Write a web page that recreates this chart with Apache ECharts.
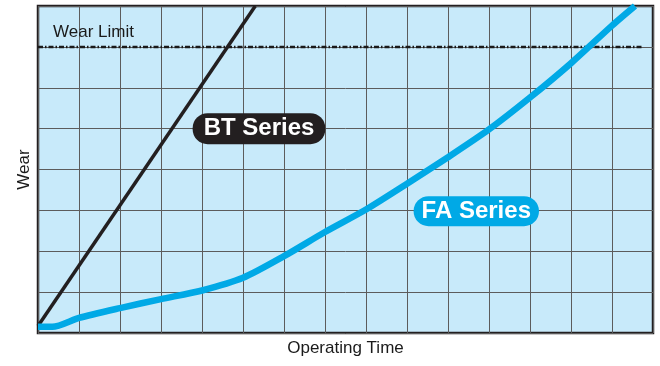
<!DOCTYPE html>
<html>
<head>
<meta charset="utf-8">
<script src="https://cdn.jsdelivr.net/npm/echarts@6/dist/echarts.min.js"></script>
<style>
html,body{margin:0;padding:0;background:#fff;}
#chart{width:660px;height:366px;}
</style>
</head>
<body>
<div id="chart"></div>
<script>
// ---- data ----
var xTicks = [0, 15, 1];           // operating time axis: min, max, interval (no labels)
var yTicks = [0, 8, 1];            // wear axis: min, max, interval (no labels)
var btSeries = [[0, 0.17], [5.3, 8.0]];
var faSeries = [
  [0, 0.15], [0.35, 0.15], [1, 0.37], [2, 0.61], [3, 0.83], [4, 1.04],
  [5, 1.35], [6, 1.88], [7, 2.47], [8, 3.02], [9, 3.65], [10, 4.3],
  [11, 4.98], [12, 5.76], [13, 6.6], [14, 7.52], [14.56, 8.0]
];
var wearLimit = [[0, 7], [14.73, 7]];
var btLabelAt = [5.39, 5.0];
var faLabelAt = [10.69, 2.98];
var labels = { x: 'Operating Time', y: 'Wear', limit: 'Wear Limit', bt: 'BT Series', fa: 'FA Series' };

var FONT = '"Liberation Sans", Arial, Helvetica, sans-serif';
var chart = echarts.init(document.getElementById('chart'), null, { renderer: 'canvas' });
chart.setOption({
  animation: false,
  backgroundColor: '#ffffff',
  grid: {
    left: 38, top: 6, width: 615, height: 327,
    show: true, backgroundColor: '#c8eafa', borderColor: '#231f20', borderWidth: 2.5,
    containLabel: false
  },
  xAxis: {
    type: 'value', min: xTicks[0], max: xTicks[1], interval: xTicks[2],
    name: labels.x, nameLocation: 'middle', nameGap: 7,
    nameTextStyle: { fontFamily: FONT, fontSize: 17, color: '#1a1a1a', verticalAlign: 'top' },
    axisLine: { show: false }, axisTick: { show: false }, axisLabel: { show: false },
    splitLine: { show: true, lineStyle: { color: '#5c5c5c', width: 1 } }
  },
  yAxis: {
    type: 'value', min: yTicks[0], max: yTicks[1], interval: yTicks[2],
    name: labels.y, nameLocation: 'middle', nameGap: 5, nameRotate: 90,
    nameTextStyle: { fontFamily: FONT, fontSize: 17, color: '#1a1a1a', verticalAlign: 'bottom' },
    axisLine: { show: false }, axisTick: { show: false }, axisLabel: { show: false },
    splitLine: { show: true, lineStyle: { color: '#5c5c5c', width: 1 } }
  },
  graphic: [{
    type: 'text', left: 53, top: 24, z: 100,
    style: { text: labels.limit, font: '17px ' + FONT, fill: '#1a1a1a' }
  }],
  series: [
    {
      type: 'line', data: wearLimit, symbol: 'none', silent: true, z: 3,
      lineStyle: { color: '#1a1a1a', width: 2.5, type: [5, 2, 1.5, 2] }
    },
    {
      type: 'line', data: btSeries, symbol: 'none', z: 4, clip: true,
      lineStyle: { color: '#231f20', width: 3.5 },
      markPoint: {
        symbol: 'circle', symbolSize: 0, silent: true,
        data: [{ coord: btLabelAt }],
        label: {
          show: true, position: 'inside', formatter: labels.bt,
          color: '#ffffff', fontFamily: FONT, fontWeight: 'bold', fontSize: 24,
          backgroundColor: '#231f20', borderRadius: 15, padding: [3, 11, 3, 11], lineHeight: 25
        }
      }
    },
    {
      type: 'line', data: faSeries, symbol: 'none', smooth: 0.25, z: 5, clip: true,
      lineStyle: { color: '#00a9e6', width: 6.5 },
      markPoint: {
        symbol: 'circle', symbolSize: 0, silent: true,
        data: [{ coord: faLabelAt }],
        label: {
          show: true, position: 'inside', formatter: labels.fa,
          color: '#ffffff', fontFamily: FONT, fontWeight: 'bold', fontSize: 24,
          backgroundColor: '#00a9e6', borderRadius: 15, padding: [3, 8, 2, 8], lineHeight: 25
        }
      }
    }
  ]
});
</script>
</body>
</html>
